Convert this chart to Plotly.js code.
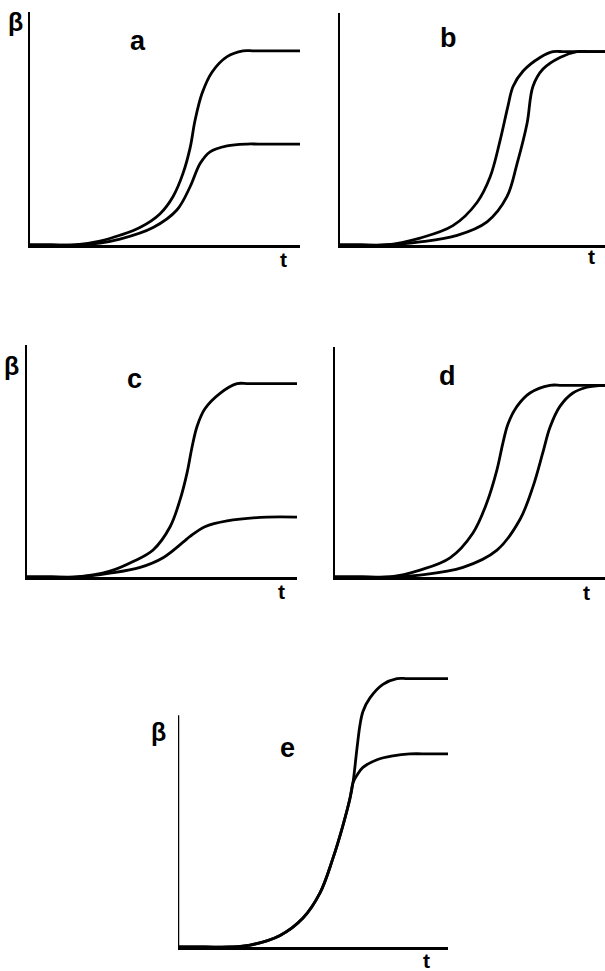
<!DOCTYPE html>
<html>
<head>
<meta charset="utf-8">
<script src="https://cdn.plot.ly/plotly-3.0.1.min.js"></script>
<style>
  html, body { margin: 0; padding: 0; background: #fff; }
  #chart { width: 605px; height: 971px; }
</style>
</head>
<body>
<div id="chart"></div>
<script>
// Growth curves β(t), five cases a–e. t runs 0–10 on every panel.

// a: two curves, different final levels
const tA_upper = [0, 0.8, 1.67, 2.59, 3.33, 4.07, 4.81, 5.30, 5.67, 5.93, 6.11, 6.37, 6.74, 7.30, 7.89, 8.3, 9.2, 10];
const betaA_upper = [0, 0, 0, 0.02, 0.05, 0.09, 0.16, 0.25, 0.37, 0.50, 0.64, 0.78, 0.89, 0.97, 1.0, 1.0, 1.0, 1.0];
const tA_lower = [0, 0.8, 1.67, 2.59, 3.33, 4.56, 5.44, 5.93, 6.30, 6.67, 7.30, 8.04, 8.45, 9.2, 10];
const betaA_lower = [0, 0, 0, 0.01, 0.03, 0.09, 0.18, 0.30, 0.42, 0.48, 0.51, 0.52, 0.52, 0.52, 0.52];

// b: same final level, shifted in time
const tB_left = [0, 0.8, 1.70, 3.02, 4.26, 5.17, 5.66, 6.04, 6.34, 6.53, 6.91, 7.55, 8.04, 8.45, 9.2, 10];
const betaB_left = [0, 0, 0, 0.036, 0.10, 0.22, 0.35, 0.54, 0.72, 0.82, 0.90, 0.97, 1.0, 1.0, 1.0, 1.0];
const tB_right = [0, 0.8, 1.70, 3.02, 4.42, 5.55, 6.30, 6.68, 7.06, 7.28, 7.66, 8.30, 8.94, 9.35, 10];
const betaB_right = [0, 0, 0, 0.016, 0.05, 0.12, 0.25, 0.42, 0.63, 0.82, 0.91, 0.97, 1.0, 1.0, 1.0];

// c: two curves, strongly different final levels
const tC_upper = [0, 0.9, 1.85, 3.07, 3.93, 4.67, 5.30, 5.67, 5.93, 6.11, 6.30, 6.59, 7.15, 7.78, 8.2, 9.1, 10];
const betaC_upper = [0, 0, 0, 0.03, 0.08, 0.14, 0.26, 0.40, 0.54, 0.67, 0.78, 0.87, 0.95, 1.0, 1.0, 1.0, 1.0];
const tC_lower = [0, 0.9, 1.85, 3.07, 4.19, 5.04, 5.78, 6.04, 6.59, 7.41, 8.89, 10];
const betaC_lower = [0, 0, 0, 0.02, 0.05, 0.10, 0.18, 0.21, 0.26, 0.29, 0.31, 0.31];

// d: same final level, larger time shift
const tD_left = [0, 1.0, 2.04, 3.15, 4.26, 5.11, 5.63, 6.00, 6.22, 6.41, 6.74, 7.22, 7.96, 8.4, 9.2, 10];
const betaD_left = [0, 0, 0, 0.036, 0.10, 0.23, 0.39, 0.56, 0.70, 0.80, 0.89, 0.96, 1.0, 1.0, 1.0, 1.0];
const tD_right = [0, 1.0, 2.04, 3.15, 4.74, 6.00, 6.85, 7.33, 7.70, 7.96, 8.33, 8.81, 9.33, 10];
const betaD_right = [0, 0, 0, 0.01, 0.05, 0.14, 0.30, 0.47, 0.65, 0.78, 0.89, 0.96, 0.99, 1.0];

// e: common rise, splitting into two final levels
const tE_upper = [0, 1.0, 1.93, 2.67, 3.78, 4.63, 5.26, 5.74, 6.11, 6.37, 6.48, 6.63, 6.74, 6.85, 7.11, 7.59, 8.11, 8.5, 9.3, 10];
const betaE_upper = [0, 0, 0, 0.01, 0.06, 0.15, 0.28, 0.46, 0.63, 0.77, 0.85, 1.03, 1.15, 1.22, 1.29, 1.36, 1.39, 1.39, 1.39, 1.39];
const tE_lower = [0, 1.0, 1.93, 2.67, 3.78, 4.63, 5.26, 5.74, 6.11, 6.37, 6.48, 6.63, 6.85, 7.37, 7.96, 8.59, 9.3, 10];
const betaE_lower = [0, 0, 0, 0.01, 0.06, 0.15, 0.28, 0.46, 0.63, 0.77, 0.85, 0.89, 0.93, 0.97, 0.99, 1.0, 1.0, 1.0];

const panelLetters = ['a', 'b', 'c', 'd', 'e'];
const betaLabel = 'β';
const timeLabel = 't';

// ---- layout helpers (page is 605 x 971 px, no margins) ----
const W = 605, H = 971;
const px = v => v / W;
const py = v => 1 - v / H;

const curveLine = { color: '#000', width: 2.8, shape: 'spline', smoothing: 1 };

function curve(t, b, n) {
  return {
    x: t, y: b, type: 'scatter', mode: 'lines',
    xaxis: n === 1 ? 'x' : 'x' + n,
    yaxis: n === 1 ? 'y' : 'y' + n,
    line: curveLine, hoverinfo: 'skip'
  };
}

const data = [
  curve(tA_upper, betaA_upper, 1), curve(tA_lower, betaA_lower, 1),
  curve(tB_left, betaB_left, 2), curve(tB_right, betaB_right, 2),
  curve(tC_upper, betaC_upper, 3), curve(tC_lower, betaC_lower, 3),
  curve(tD_left, betaD_left, 4), curve(tD_right, betaD_right, 4),
  curve(tE_upper, betaE_upper, 5), curve(tE_lower, betaE_lower, 5)
];

const AXW = 2.5;

function xAxis(l, r, anchor) {
  return {
    domain: [px(l), px(r)], range: [0, 10], anchor: anchor,
    showline: true, linecolor: '#000', linewidth: AXW,
    showgrid: false, zeroline: false, ticks: '', showticklabels: false, fixedrange: true
  };
}
function yAxis(bottom, top, range, anchor, line) {
  return {
    domain: [py(bottom), py(top)], range: range, anchor: anchor,
    showline: line, linecolor: '#000', linewidth: AXW,
    showgrid: false, zeroline: false, ticks: '', showticklabels: false, fixedrange: true
  };
}

const layout = {
  width: W, height: H,
  margin: { l: 0, r: 0, t: 0, b: 0 },
  paper_bgcolor: '#fff', plot_bgcolor: 'rgba(0,0,0,0)',
  showlegend: false,
  xaxis:  xAxis(30, 300, 'y'),
  yaxis:  yAxis(245, 12, [0, 1.2], 'x', true),
  xaxis2: xAxis(340, 605, 'y2'),
  yaxis2: yAxis(245, 13, [0, 1.2], 'x2', true),
  xaxis3: xAxis(27, 297, 'y3'),
  yaxis3: yAxis(577, 345, [0, 1.2], 'x3', true),
  xaxis4: xAxis(335, 605, 'y4'),
  yaxis4: yAxis(577, 347, [0, 1.2], 'x4', true),
  xaxis5: xAxis(178, 448, 'y5'),
  yaxis5: yAxis(947, 667, [0, 1.45], 'x5', false),
  shapes: [
    // the β axis of panel e stops below the upper curve's plateau
    { type: 'line', xref: 'x5', yref: 'y5', x0: 0, x1: 0, y0: 0, y1: 1.2,
      line: { color: '#000', width: AXW } }
  ],
  annotations: []
};

function label(text, x, y, size, bold) {
  layout.annotations.push({
    text: text,
    xref: 'paper', yref: 'paper', x: px(x), y: py(y),
    xanchor: 'center', yanchor: 'middle', showarrow: false,
    font: { family: 'Liberation Sans, Arial, sans-serif', size: size, color: '#000',
            weight: bold ? 'bold' : 'normal' }
  });
}

// panel letters
const letterPos = [[138, 41], [448, 38], [134, 379], [447, 376], [287, 748]];
panelLetters.forEach((s, i) => label(s, letterPos[i][0], letterPos[i][1], 27, true));
// β labels on the left-hand panels
[[15, 22], [11, 366], [158, 732]].forEach(p => label(betaLabel, p[0], p[1], 25, true));
// t labels under the time axes
[[283, 259], [591, 256], [281, 591], [586, 592], [426, 960]].forEach(p => label(timeLabel, p[0], p[1], 21, true));

Plotly.newPlot('chart', data, layout, { staticPlot: true, displayModeBar: false });
</script>
</body>
</html>
